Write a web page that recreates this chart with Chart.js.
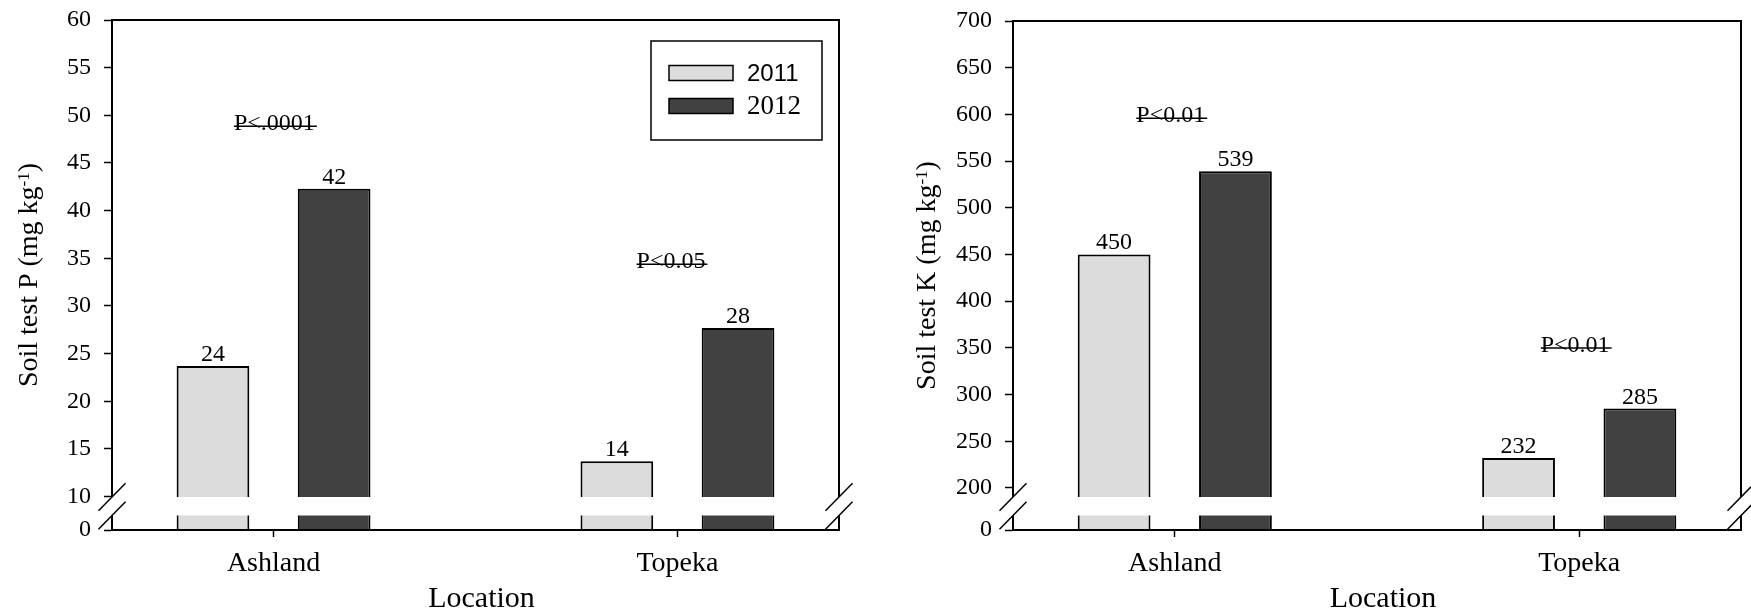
<!DOCTYPE html>
<html>
<head>
<meta charset="utf-8">
<title>Soil test P and K</title>
<script src="https://cdn.jsdelivr.net/npm/chart.js@4.4.1/dist/chart.umd.min.js"></script>
<style>
  body { margin: 0; background: #fff; }
  #wrap { position: relative; width: 1751px; height: 613px; }
  .box { position: absolute; top: 0; height: 613px; }
</style>
</head>
<body>
<div id="wrap">
  <div class="box" style="left:0;width:876px"><canvas id="soilP"></canvas></div>
  <div class="box" style="left:876px;width:875px"><canvas id="soilK"></canvas></div>
</div>
<script>
// data
const locations = ['Ashland', 'Topeka'];
const years = ['2011', '2012'];
const soilP2011 = [23.7, 13.7];
const soilP2012 = [42.3, 27.7];
const soilK2011 = [450, 232];
const soilK2012 = [539, 285];
const pTicks = [10, 15, 20, 25, 30, 35, 40, 45, 50, 55, 60];
const kTicks = [200, 250, 300, 350, 400, 450, 500, 550, 600, 650, 700];
const pNotes = ['P<.0001', 'P<0.05'];
const kNotes = ['P<0.01', 'P<0.01'];

const fills = ['#dcdcdc', '#414141'];
const serif = "'Liberation Serif', 'Times New Roman', serif";
const sans = "'Liberation Sans', Arial, sans-serif";

Chart.defaults.font.family = serif;
Chart.defaults.color = '#000';

function sets(a, b) {
  return [a, b].map((vals, k) => ({
    label: years[k],
    data: vals.map((v, i) => ({ x: i + 1, y: v })),
    backgroundColor: fills[k],
    borderColor: '#000',
    borderWidth: 2,
    categoryPercentage: 0.6,
    barPercentage: 0.6
  }));
}

// frame, axis break, labels, legend
const decor = {
  id: 'decor',
  afterDatasetsDraw(chart, args, o) {
    const { ctx, chartArea: a } = chart;
    ctx.save();
    ctx.strokeStyle = '#000';
    ctx.lineWidth = 2;
    ctx.beginPath();
    ctx.moveTo(a.left - 1, a.top);
    ctx.lineTo(a.right, a.top);
    ctx.lineTo(a.right, a.bottom);
    ctx.stroke();
    const g1 = a.bottom - 33, g2 = a.bottom - 14.5;
    ctx.fillStyle = '#fff';
    ctx.fillRect(a.left - 2, g1, a.right - a.left + 4, g2 - g1);
    ctx.restore();
  },
  afterDraw(chart, args, o) {
    const { ctx, chartArea: a, scales } = chart;
    ctx.save();
    ctx.fillStyle = '#000';
    ctx.strokeStyle = '#000';

    // break marks
    const g1 = a.bottom - 33, g2 = a.bottom - 14.5;
    ctx.lineWidth = 1.5;
    [a.left, a.right].forEach(x => {
      [g1, g2].forEach(y => {
        ctx.beginPath();
        ctx.moveTo(x - 13.5, y + 13.7);
        ctx.lineTo(x + 13.5, y - 13.7);
        ctx.stroke();
      });
    });

    // values over bars
    ctx.font = '24px ' + serif;
    ctx.textAlign = 'center';
    ctx.textBaseline = 'alphabetic';
    chart.data.datasets.forEach((ds, k) => {
      chart.getDatasetMeta(k).data.forEach((bar, i) => {
        ctx.fillText(Math.round(ds.data[i].y), bar.x, bar.y - 5);
      });
    });

    // P values
    o.notes.forEach((n, i) => {
      const x = scales.x.getPixelForValue(o.notePos[i].x);
      const y = scales.y.getPixelForValue(o.notePos[i].y);
      const w = ctx.measureText(n).width;
      ctx.fillText(n, x, y);
      ctx.beginPath();
      ctx.moveTo(x - w / 2, y - 3.5);
      ctx.lineTo(x + w / 2 + 2, y - 3.5);
      ctx.stroke();
    });

    // x title
    ctx.font = '30px ' + serif;
    ctx.fillText('Location', (a.left + a.right) / 2 + 6, chart.height - 6.5);

    // y title with superscript
    const parts = [
      { t: o.yTitle, f: '28px ' + serif, rise: 0 },
      { t: '-1', f: '17px ' + serif, rise: 8 },
      { t: ')', f: '28px ' + serif, rise: 0 }
    ];
    let total = 0;
    parts.forEach(p => { ctx.font = p.f; p.w = ctx.measureText(p.t).width; total += p.w; });
    ctx.translate(o.yTitleX, (a.top + a.bottom) / 2);
    ctx.rotate(-Math.PI / 2);
    ctx.textAlign = 'left';
    let cx = -total / 2;
    parts.forEach(p => {
      ctx.font = p.f;
      ctx.fillText(p.t, cx, -p.rise);
      cx += p.w;
    });
    ctx.setTransform(1, 0, 0, 1, 0, 0);

    // legend
    if (o.legend) {
      const L = o.legend;
      ctx.lineWidth = 1.5;
      ctx.strokeRect(L.x, L.y, L.w, L.h);
      chart.data.datasets.forEach((ds, k) => {
        const sy = L.rowY[k];
        ctx.fillStyle = ds.backgroundColor;
        ctx.fillRect(L.x + 18, sy, 64, 15);
        ctx.strokeRect(L.x + 18, sy, 64, 15);
        ctx.fillStyle = '#000';
        ctx.font = k === 0 ? '24px ' + sans : '27px ' + serif;
        ctx.textAlign = 'left';
        ctx.fillText(ds.label, L.x + 96, sy + 15.5);
      });
    }
    ctx.restore();
  }
};

function noPad(s) {
  s.paddingTop = 0; s.paddingBottom = 0; s.paddingLeft = 0; s.paddingRight = 0;
}

function makeChart(id, cfg) {
  return new Chart(document.getElementById(id), {
    type: 'bar',
    data: { datasets: sets(cfg.a, cfg.b) },
    plugins: [decor],
    options: {
      responsive: true,
      maintainAspectRatio: false,
      animation: false,
      layout: { padding: cfg.pad },
      plugins: {
        legend: { display: false },
        tooltip: { enabled: false },
        decor: cfg.decor
      },
      scales: {
        x: {
          type: 'linear',
          min: 0.6,
          max: 2.4,
          offset: false,
          afterFit: s => { s.height = 83; noPad(s); },
          afterBuildTicks: s => { s.ticks = locations.map((_, i) => ({ value: i + 1 })); },
          grid: { drawOnChartArea: false, offset: false, tickLength: 7, tickWidth: 1.5, tickColor: '#000' },
          border: { color: '#000', width: 2, z: 1 },
          ticks: {
            color: '#000', font: { family: serif, size: 28 }, padding: 10,
            maxRotation: 0, autoSkip: false,
            callback: v => locations[v - 1]
          }
        },
        y: {
          min: cfg.min,
          max: cfg.max,
          beginAtZero: false,
          afterFit: s => { s.width = cfg.axisX; noPad(s); },
          afterBuildTicks: s => { s.ticks = [cfg.min].concat(cfg.ticks).map(v => ({ value: v })); },
          grid: { drawOnChartArea: false, tickLength: 8, tickWidth: 1.5, tickColor: '#000' },
          border: { color: '#000', width: 2 },
          ticks: {
            color: '#000', font: { family: serif, size: 24 }, padding: 13, autoSkip: false,
            callback: v => (v === cfg.min ? '0' : String(v))
          }
        }
      }
    }
  });
}

makeChart('soilP', {
  a: soilP2011, b: soilP2012,
  min: 6.5, max: 60, ticks: pTicks,
  axisX: 112,
  pad: { top: 20, right: 37, left: 0, bottom: 0 },
  decor: {
    yTitle: 'Soil test P (mg kg', yTitleX: 36.5,
    notes: pNotes,
    notePos: [{ x: 1.002, y: 48.5 }, { x: 1.984, y: 34 }],
    legend: { x: 651, y: 41, w: 171, h: 99, rowY: [65.5, 98.5] }
  }
});

makeChart('soilK', {
  a: soilK2011, b: soilK2012,
  min: 155, max: 700, ticks: kTicks,
  axisX: 137,
  pad: { top: 21, right: 10, left: 0, bottom: 0 },
  decor: {
    yTitle: 'Soil test K (mg kg', yTitleX: 59,
    notes: kNotes,
    notePos: [{ x: 0.99, y: 592 }, { x: 1.99, y: 346 }],
    legend: null
  }
});
</script>
</body>
</html>
